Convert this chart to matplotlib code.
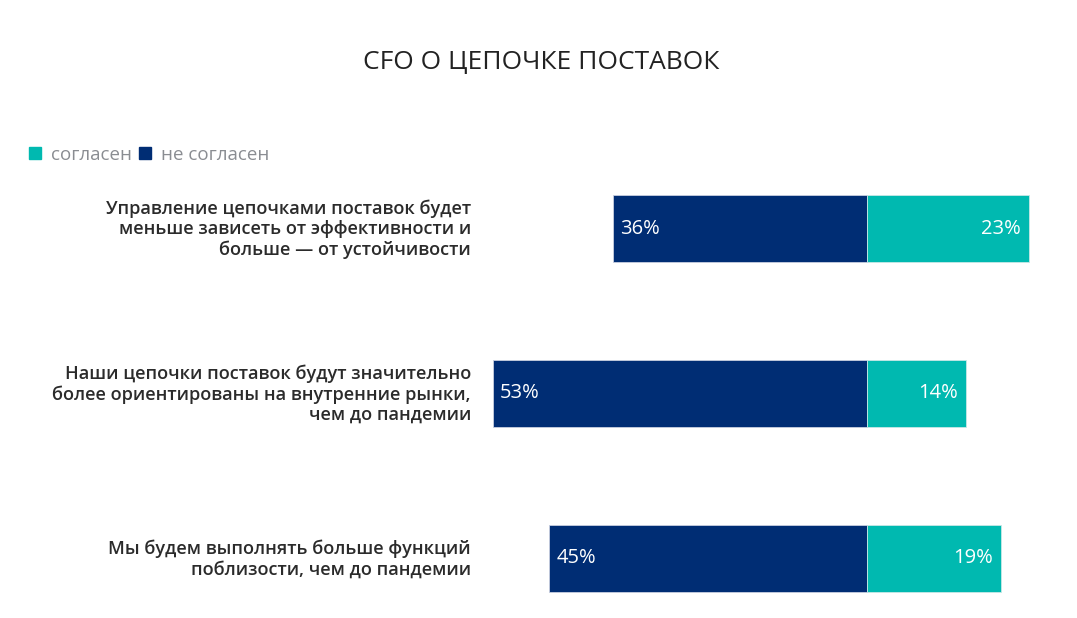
import matplotlib
matplotlib.use("Agg")
import matplotlib.pyplot as plt
from matplotlib.lines import Line2D

plt.rcParams['font.family'] = ['Open Sans', 'DejaVu Sans']

categories = [
    "Управление цепочками поставок будет\nменьше зависеть от эффективности и\nбольше — от устойчивости",
    "Наши цепочки поставок будут значительно\nболее ориентированы на внутренние рынки,\nчем до пандемии",
    "Мы будем выполнять больше функций\nпоблизости, чем до пандемии",
]
disagree = [36, 53, 45]
agree = [23, 14, 19]
series_names = ["согласен", "не согласен"]

c_agree = "#00b9b0"
c_dis = "#002d74"

fig = plt.figure(figsize=(10.77, 6.18), dpi=100)
ax = fig.add_axes([478.7 / 1077, 1 - 600 / 618, (1043.5 - 478.7) / 1077, 450 / 618])
ax.set_xlim(-55, 25)
ax.set_ylim(2.252, -0.476)
ax.axis("off")

ys = list(range(len(categories)))
h = 67 / 165
ax.barh(ys, [-d for d in disagree], height=h, color=c_dis, edgecolor="#c8cfe0", linewidth=0.6)
ax.barh(ys, agree, height=h, color=c_agree, edgecolor="#c8e8e6", linewidth=0.6)

for y, d, a, cat in zip(ys, disagree, agree, categories):
    ax.annotate(f"{d}%", xy=(-d, y), xytext=(5, 0), textcoords="offset points",
                ha="left", va="center", color="white", fontsize=14.5)
    ax.annotate(f"{a}%", xy=(a, y), xytext=(-6, 0), textcoords="offset points",
                ha="right", va="center", color="white", fontsize=14.5)
    fig.text(471 / 1077, 1 - (229 + 165 * y) / 618, cat, ha="right", va="center",
             fontsize=13.05, fontweight="semibold", color="#2b2b2b", linespacing=1.15)

fig.text(541 / 1077, 1 - 62 / 618, "CFO О ЦЕПОЧКЕ ПОСТАВОК", ha="center", va="center",
         fontsize=19, color="#222222")

handles = [Line2D([], [], marker="s", linestyle="none", markersize=9, color=c_agree),
           Line2D([], [], marker="s", linestyle="none", markersize=9, color=c_dis)]
fig.legend(handles, series_names, loc="center left", bbox_to_anchor=(9 / 1077, 1 - 155 / 618),
           ncol=2, frameon=False, handletextpad=0.35, columnspacing=0.2, handlelength=1.0,
           labelcolor="#8a8d92", prop={"size": 13.5})

fig.savefig("out.png", dpi=100)
